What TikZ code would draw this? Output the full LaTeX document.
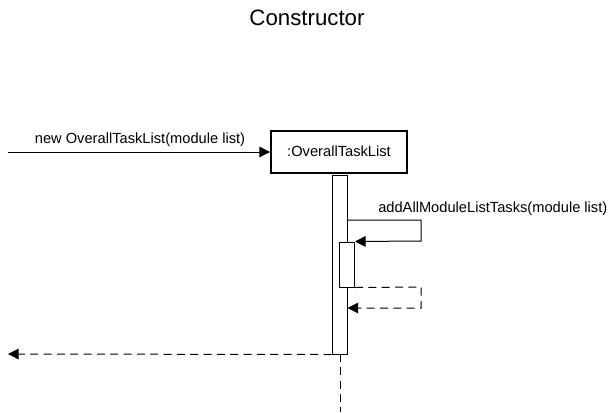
\documentclass[tikz,border=0pt]{standalone}
\usepackage{fontspec}
\setmainfont{Liberation Sans}
\usetikzlibrary{arrows.meta}
\tikzset{
  msg/.style={line width=0.75pt,-{Triangle[length=8pt,width=8pt]}},
  ret/.style={msg,dashed,dash pattern=on 6pt off 4pt},
  bar/.style={draw,fill=white,line width=0.75pt,minimum width=11.25pt,inner sep=0pt},
  lbl/.style={font=\fontsize{11pt}{13pt}\selectfont}
}
\begin{document}
\begin{tikzpicture}[x=0.75pt,y=-0.75pt]
\useasboundingbox (0,0) rectangle (614,412);
\node [font=\fontsize{16.7pt}{19pt}\selectfont] (title) at (307,18) {Constructor};
\node [draw,line width=1.5pt,minimum width=102pt,minimum height=31.5pt,inner sep=0pt,lbl] (obj) at (339,151.5) {:OverallTaskList};
\coordinate (start) at (8,152);
\coordinate (end) at (8,354);
\coordinate (life) at (340,412);
% lifeline and activations
\draw [line width=0.75pt,dashed,dash pattern=on 6pt off 4pt] (340,354) -- (life);
\node [bar,minimum height=134.25pt] (act) at (339.5,264.5) {};
\node [bar,minimum height=33.75pt] (sub) at (347,264.5) {};
% messages
\draw [msg] (start) -- (obj.west |- start);
\node [lbl] at (140,140) {new OverallTaskList(module list)};
\draw [msg] (act.east |- 0,220) -- (421,220) -- (421,241) -- (sub.north east);
\node [lbl,anchor=west,inner sep=0pt] at (378,209) {addAllModuleListTasks(module list)};
\draw [ret] (sub.south east) -- (421,287) -- (421,308) -- (act.east |- 0,308);
\draw [ret] (act.south west) -- (end);
\end{tikzpicture}
\end{document}
